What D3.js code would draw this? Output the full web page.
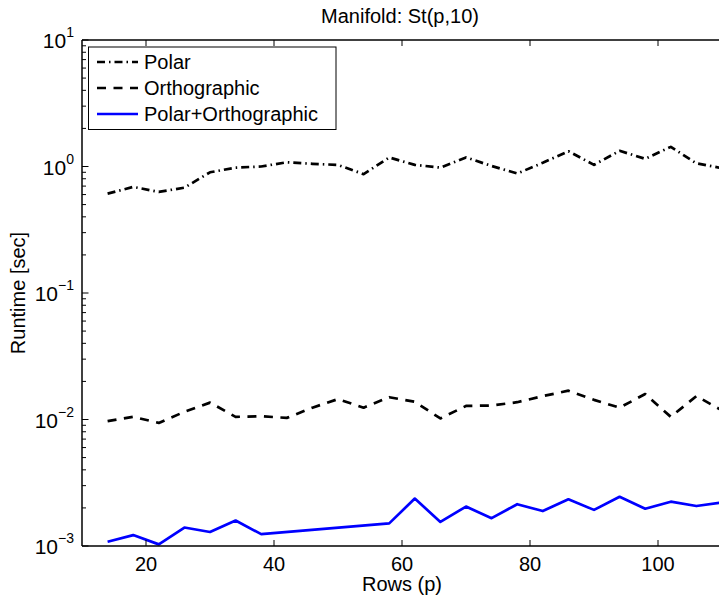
<!DOCTYPE html>
<html>
<head>
<meta charset="utf-8">
<script src="https://cdn.jsdelivr.net/npm/d3@7/dist/d3.min.js"></script>
<style>
  html, body { margin: 0; padding: 0; background: #fff; }
  svg { display: block; font-family: "Liberation Sans", Arial, Helvetica, sans-serif; }
</style>
</head>
<body>
<svg id="chart" width="719" height="600"></svg>
<script>
// ---- data ----
const rowsP = [14,18,22,26,30,34,38,42,46,50,54,58,62,66,70,74,78,82,86,90,94,98,102,106,110];
const polar = [0.61,0.69,0.63,0.68,0.90,0.98,1.00,1.08,1.05,1.03,0.87,1.18,1.03,0.98,1.18,1.01,0.88,1.07,1.32,1.03,1.33,1.15,1.43,1.06,0.97];
const ortho = [0.0097,0.0105,0.0094,0.0115,0.0136,0.0105,0.0106,0.0103,0.0124,0.0145,0.0124,0.0150,0.0138,0.0102,0.0128,0.0129,0.0137,0.0153,0.0169,0.0143,0.0124,0.0159,0.0105,0.0153,0.0118];
const rowsCombined = [14,18,22,26,30,34,38,58,62,66,70,74,78,82,86,90,94,98,102,106,110];
const combined = [0.00108,0.00122,0.00103,0.00140,0.00129,0.00159,0.00124,0.00151,0.00237,0.00155,0.00205,0.00166,0.00214,0.00189,0.00234,0.00193,0.00245,0.00197,0.00224,0.00207,0.00221];
const xTicks = [20,40,60,80,100];
const yTickExps = [-3,-2,-1,0,1];
const seriesNames = ["Polar","Orthographic","Polar+Orthographic"];
const titleText = "Manifold: St(p,10)";
const xLabel = "Rows (p)";
const yLabel = "Runtime [sec]";

(function () {
// ---- layout ----
const pL = 82, pR = 722, pT = 40, pB = 546;
const svg = d3.select("#chart");
const x = d3.scaleLinear().domain([10,110]).range([pL,pR]);
const y = d3.scaleLog().domain([1e-3,1e1]).range([pB,pT]);

const series = [
  {name: seriesNames[0], xs: rowsP, ys: polar, color: "#000", dash: "8,4,1.5,4"},
  {name: seriesNames[1], xs: rowsP, ys: ortho, color: "#000", dash: "9,7.5"},
  {name: seriesNames[2], xs: rowsCombined, ys: combined, color: "#0000ff", dash: null}
];

const line = d3.line().x(d => x(d[0])).y(d => y(d[1]));
series.forEach(s => {
  const pts = s.xs.map((v,i) => [v, s.ys[i]]);
  const p = svg.append("path")
    .attr("d", line(pts))
    .attr("fill","none")
    .attr("stroke", s.color)
    .attr("stroke-width", 2.7)
    .attr("stroke-linejoin","round");
  if (s.dash) p.attr("stroke-dasharray", s.dash);
});

// ---- axes ----
const ax = svg.append("g").attr("stroke","#000").attr("stroke-width",1.5);
ax.append("line").attr("x1",pL).attr("x2",pR).attr("y1",pB).attr("y2",pB);
ax.append("line").attr("x1",pL).attr("x2",pR).attr("y1",pT).attr("y2",pT);
ax.append("line").attr("x1",pL).attr("x2",pL).attr("y1",pT).attr("y2",pB);

const tk = svg.append("g").attr("stroke","#000").attr("stroke-width",1);
xTicks.forEach(t => {
  tk.append("line").attr("x1",x(t)).attr("x2",x(t)).attr("y1",pB).attr("y2",pB-6);
  tk.append("line").attr("x1",x(t)).attr("x2",x(t)).attr("y1",pT).attr("y2",pT+6);
  svg.append("text").attr("x",x(t)).attr("y",pB+25)
    .attr("text-anchor","middle").attr("font-size",20).attr("fill","#000").text(t);
});

yTickExps.forEach(e => {
  const v = Math.pow(10,e);
  tk.append("line").attr("x1",pL).attr("x2",pL+6.5).attr("y1",y(v)).attr("y2",y(v));
  if (e < 1) {
    for (let m = 2; m <= 9; m++) {
      const mv = m*v;
      tk.append("line").attr("x1",pL).attr("x2",pL+4).attr("y1",y(mv)).attr("y2",y(mv));
    }
  }
  const t = svg.append("text").attr("x",74).attr("y",y(v)+8)
    .attr("text-anchor","end").attr("font-size",21).attr("fill","#000");
  t.append("tspan").text("10");
  t.append("tspan").attr("font-size",14).attr("dy",-11).text(e < 0 ? "\u2212" + (-e) : String(e));
});

svg.append("text").attr("x",400).attr("y",23).attr("text-anchor","middle")
  .attr("font-size",20).attr("fill","#000").text(titleText);
svg.append("text").attr("x",(pL+pR)/2).attr("y",591)
  .attr("text-anchor","middle").attr("font-size",20).attr("fill","#000").text(xLabel);
svg.append("text").attr("transform",`translate(25,${(pT+pB)/2}) rotate(-90)`)
  .attr("text-anchor","middle").attr("font-size",20).attr("fill","#000").text(yLabel);

// ---- legend ----
const lg = svg.append("g");
lg.append("rect").attr("x",88.5).attr("y",47).attr("width",247.5).attr("height",82.5)
  .attr("fill","#fff").attr("stroke","#000").attr("stroke-width",1);
series.forEach((s,i) => {
  const ly = 62 + i*26;
  const l = lg.append("line").attr("x1",97).attr("x2",138).attr("y1",ly).attr("y2",ly)
    .attr("stroke",s.color).attr("stroke-width",2.7);
  if (s.dash) l.attr("stroke-dasharray", s.dash);
  lg.append("text").attr("x",144).attr("y",ly+7).attr("font-size",20).attr("fill","#000").text(s.name);
});
})();
</script>
</body>
</html>
